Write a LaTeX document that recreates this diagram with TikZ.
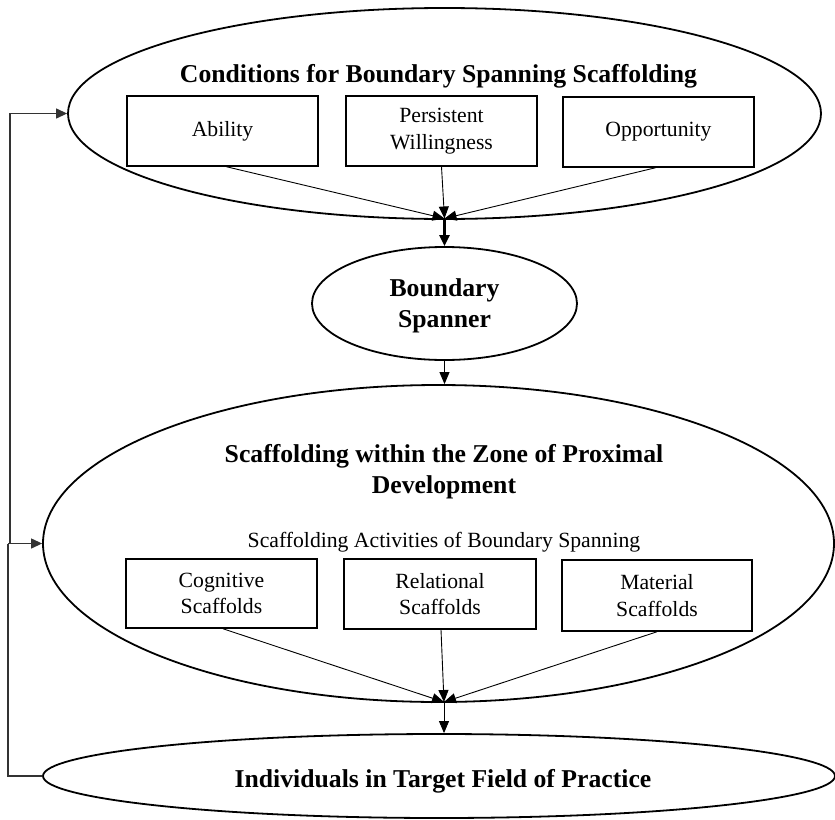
\documentclass[tikz,border=0pt]{standalone}
\usepackage{fontspec}
\setmainfont{Liberation Serif}
\usetikzlibrary{shapes.geometric,arrows.meta,calc}
\tikzset{
  oval/.style={ellipse,draw,line width=1.8pt,inner sep=0pt},
  factor/.style={rectangle,draw,line width=1.5pt,inner sep=0pt,align=center,
    font=\fontsize{21.7}{26.5}\selectfont},
  title/.style={font=\fontsize{25.7}{31}\selectfont\bfseries,align=center,inner sep=0pt},
  sub/.style={font=\fontsize{21.7}{26.5}\selectfont,inner sep=0pt},
  link/.style={line width=0.9pt,-{Triangle[length=12pt,width=10pt]}},
  boldlink/.style={line width=2.2pt,-{Triangle[length=11pt,width=10pt]}},
  loop/.style={line width=1.2pt,draw=black!80},
  looptip/.style={-{Triangle[length=11pt,width=10pt]}},
}
\begin{document}
\begin{tikzpicture}[x=1pt,y=-1pt]
\useasboundingbox (0,0) rectangle (835,819);
% ellipses
\node[oval,minimum width=753pt,minimum height=211pt] (top) at (444.5,113.5) {};
\node[oval,minimum width=265pt,minimum height=113pt] (bs) at (444.5,303.5) {};
\node[oval,minimum width=791pt,minimum height=317pt] (big) at (438.5,543.5) {};
\node[oval,minimum width=792pt,minimum height=84pt] (ind) at (439,776) {};
% titles
\node[title,anchor=base] (t1) at (438.5,82) {Conditions for Boundary Spanning Scaffolding};
\node[title,anchor=base] (t2) at (444.5,327) {Boundary\\Spanner};
\node[title,anchor=base] (t3) at (444,493) {Scaffolding within the Zone of Proximal\\Development};
\node[sub,anchor=base] (t4) at (444,547) {Scaffolding Activities of Boundary Spanning};
\node[title,anchor=base] (t5) at (443,787) {Individuals in Target Field of Practice};
% boxes
\node[factor,minimum width=191pt,minimum height=70pt] (abil) at (222.5,131) {Ability};
\node[factor,minimum width=191pt,minimum height=70pt] (pers) at (441.5,131) {Persistent\\Willingness};
\node[factor,minimum width=191pt,minimum height=70pt] (opp) at (658.5,132) {Opportunity};
\node[factor,minimum width=191pt,minimum height=69pt] (cog) at (221.5,593.5) {Cognitive\\Scaffolds};
\node[factor,minimum width=192pt,minimum height=70pt] (rel) at (440,594) {Relational\\Scaffolds};
\node[factor,minimum width=190pt,minimum height=71pt] (mat) at (657,595.5) {Material\\Scaffolds};
% convergence points
\coordinate (c1) at (444.5,218.5);
\coordinate (c2) at (444,702);
% connectors top
\draw[link] ($(abil.south)+(4,0)$) -- (c1);
\draw[link] (pers.south) -- (c1);
\draw[link] ($(opp.south)+(-3,0)$) -- (c1);
\draw[boldlink] (c1) -- (bs.north);
\draw[link] (bs.south) -- (bs.south |- big.north);
% connectors bottom
\draw[link] ($(cog.south)+(1.5,0)$) -- (c2);
\draw[link] ($(rel.south)+(1,0)$) -- (c2);
\draw[link] (mat.south) -- (c2);
\draw[link] (c2) -- (c2 |- ind.north);
% feedback loops
\coordinate (l1) at (8,776);
\coordinate (l2) at (8,543.5);
\coordinate (l3) at (10,543.5);
\coordinate (l4) at (10,113.5);
\draw[loop] (ind.west) -- (l1) -- (l2);
\draw[loop,looptip] (l2) -- (big.west);
\draw[loop,looptip] (l3) -- (l4) -- (top.west);
\end{tikzpicture}
\end{document}
